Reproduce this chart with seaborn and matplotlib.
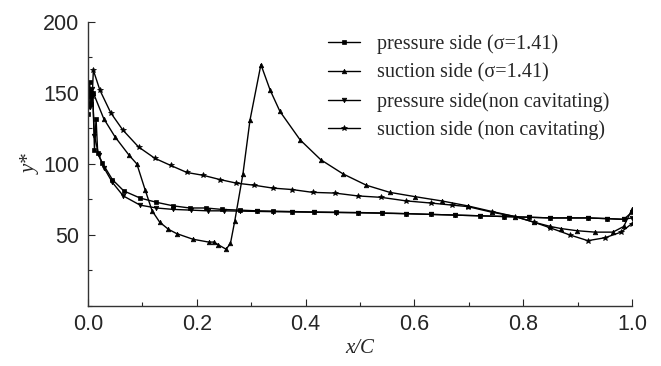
import matplotlib
matplotlib.use('Agg')
import matplotlib.pyplot as plt
import seaborn as sns
import numpy as np
from matplotlib.ticker import MultipleLocator

# pressure side, cavitating (sigma = 1.41)
ps_cav_x = [0.0, 0.003, 0.006, 0.009, 0.012, 0.015, 0.018, 0.026, 0.045, 0.066, 0.096,
            0.126, 0.157, 0.187, 0.217, 0.246, 0.28, 0.31, 0.34, 0.375, 0.415, 0.456,
            0.496, 0.54, 0.585, 0.63, 0.675, 0.72, 0.765, 0.81, 0.85, 0.885, 0.92,
            0.955, 0.985, 1.0]
ps_cav_y = [135, 158, 142, 150, 110, 132, 108, 101, 89, 81, 76,
            73, 70.5, 69, 69, 68, 67.5, 67, 66.8, 66.5, 66.2, 66,
            65.8, 65.5, 65, 64.5, 64, 63.5, 63, 62.5, 62, 62, 62,
            61.5, 61, 66]

# suction side, cavitating (sigma = 1.41)
ss_cav_x = [0.0, 0.005, 0.01, 0.029, 0.05, 0.076, 0.09, 0.105, 0.118, 0.132, 0.148,
            0.163, 0.193, 0.222, 0.232, 0.24, 0.254, 0.262, 0.27, 0.285, 0.298, 0.318,
            0.335, 0.353, 0.39, 0.428, 0.469, 0.512, 0.555, 0.601, 0.65, 0.698,
            0.743, 0.785, 0.82, 0.85, 0.87, 0.899, 0.932, 0.965, 0.985, 1.0]
ss_cav_y = [148, 152, 150, 132, 119, 106, 100, 82, 67, 59, 54,
            51, 47, 45, 45, 43, 40, 44, 60, 93, 131, 170,
            152, 137, 117, 103, 93, 85, 80, 77, 74, 70.5,
            66.5, 63, 59, 56, 54.5, 53, 52, 52, 56, 68]

# pressure side, non cavitating
ps_nc_x = [0.0, 0.004, 0.008, 0.012, 0.02, 0.03, 0.045, 0.065, 0.096, 0.126, 0.157,
           0.19, 0.22, 0.25, 0.28, 0.31, 0.34, 0.375, 0.415, 0.456, 0.496, 0.54,
           0.585, 0.63, 0.675, 0.72, 0.765, 0.81, 0.85, 0.885, 0.92, 0.955, 0.985, 1.0]
ps_nc_y = [150, 140, 153, 120, 106, 97, 87, 77.5, 71, 69, 68,
           67.5, 67, 67, 66.8, 66.6, 66.4, 66.2, 66, 65.8, 65.6, 65.3,
           65, 64.5, 64, 63.5, 63, 62.5, 62, 62, 62, 61.5, 61, 62]

# suction side, non cavitating
ss_nc_x = [0.0, 0.004, 0.008, 0.01, 0.022, 0.042, 0.064, 0.093, 0.123, 0.152, 0.182,
           0.212, 0.243, 0.273, 0.306, 0.34, 0.375, 0.413, 0.454, 0.496, 0.539,
           0.585, 0.63, 0.67, 0.698, 0.743, 0.785, 0.82, 0.85, 0.886, 0.919, 0.95,
           0.98, 1.0]
ss_nc_y = [140, 152, 148, 166, 152, 136, 124, 112, 104, 99, 94,
           92, 89, 86.5, 85, 83, 82, 80, 79.5, 77.5, 76.5,
           74, 72.5, 71, 70, 66, 63, 59, 55, 50, 46, 48,
           52, 58]

series = [
    (ps_cav_x, ps_cav_y, 's', 'pressure side (\u03c3=1.41)'),
    (ss_cav_x, ss_cav_y, '^', 'suction side (\u03c3=1.41)'),
    (ps_nc_x, ps_nc_y, 'v', 'pressure side(non cavitating)'),
    (ss_nc_x, ss_nc_y, '*', 'suction side (non cavitating)'),
]

sns.set_style('ticks')
plt.rcParams['font.family'] = ['Liberation Sans', 'DejaVu Sans']

fig = plt.figure(figsize=(6.61, 3.66), dpi=100)
ax = fig.add_axes([0.133, 0.164, 0.823, 0.776])

for xs, ys, mk, lab in series:
    sns.lineplot(x=xs, y=ys, sort=False, estimator=None, ax=ax, color='black',
                 marker=mk, markersize=3.3 if mk != '*' else 3.8, linewidth=1.0,
                 markeredgewidth=0.5, markeredgecolor='black',
                 markerfacecolor='black', label=lab)

ax.set_xlim(0, 1.0)
ax.set_ylim(0, 200)
ax.set_yticks([50, 100, 150, 200])
ax.yaxis.set_minor_locator(MultipleLocator(25))
ax.set_xticks([0.0, 0.2, 0.4, 0.6, 0.8, 1.0])
ax.xaxis.set_minor_locator(MultipleLocator(0.1))
ax.tick_params(which='major', direction='in', length=5, width=0.8, labelsize=15.5, pad=6)
ax.tick_params(which='minor', direction='in', length=3, width=0.8)
for side in ['top', 'right']:
    ax.spines[side].set_visible(False)
for side in ['left', 'bottom']:
    ax.spines[side].set_linewidth(1.0)
    ax.spines[side].set_color('#333333')

ax.set_xlabel('x/C', fontsize=15, fontstyle='italic', family='Liberation Serif', labelpad=3)
ax.set_ylabel('y*', fontsize=15, fontstyle='italic', family='Liberation Serif', labelpad=2)

ax.legend(loc='upper left', bbox_to_anchor=(0.441, 0.955), frameon=False,
          prop={'family': 'Liberation Serif', 'size': 14.5}, handlelength=1.6,
          handletextpad=0.85, labelspacing=0.45, borderpad=0, borderaxespad=0)

fig.savefig('out.png', dpi=100)
